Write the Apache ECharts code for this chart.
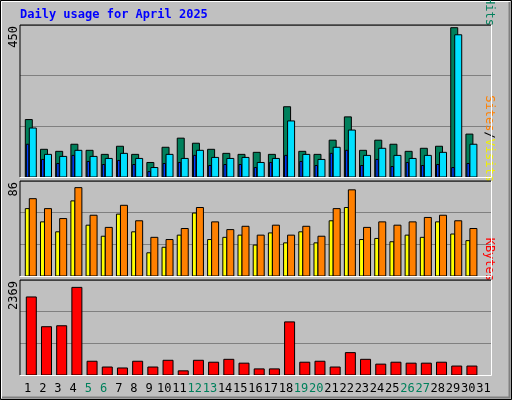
<!DOCTYPE html>
<html>
<head>
<meta charset="utf-8">
<script src="https://cdn.jsdelivr.net/npm/echarts@6/dist/echarts.min.js"></script>
<style>
  html, body { margin: 0; padding: 0; background: #c0c0c0; }
  #chart { width: 512px; height: 400px; }
</style>
</head>
<body>
<div id="chart"></div>
<script>
// 每日数据
const days = ['1','2','3','4','5','6','7','8','9','10','11','12','13','14','15','16','17','18','19','20','21','22','23','24','25','26','27','28','29','30','31']
const weekend = ['5','6','12','13','19','20','26','27']
const hits = [170,82,76,97,79,67,91,67,43,88,115,100,82,70,67,73,67,208,76,67,109,178,79,109,97,76,85,91,442,127,0]
const files = [145,67,61,79,61,55,70,55,28,67,55,79,58,55,58,43,55,166,67,52,88,139,64,85,64,55,64,73,421,97,0]
const pages = [97,52,40,64,46,37,49,37,16,40,43,64,34,37,37,28,43,64,46,34,70,79,34,52,31,43,34,37,28,40,0]
const visits = [70,61,52,80,55,44,64,50,35,33,43,62,49,42,45,37,46,37,45,36,61,78,44,49,46,49,53,55,50,43,0]
const sites = [61,49,40,68,46,36,56,40,21,26,37,57,33,35,37,28,39,30,40,30,50,62,33,34,31,37,35,49,38,32,0]
const kbytes = [1946,1204,1228,2185,343,199,175,343,199,367,104,367,319,391,295,152,152,1324,319,343,199,558,391,271,319,295,295,319,223,223,0]
const maxes = [450, 86, 2369]

const mono = 'DejaVu Sans Mono'

// 柱子: 相对每个格子左边的偏移和宽度
function barSeries(data, idx, color, off, w, z) {
    return {
        type: 'custom',
        xAxisIndex: idx,
        yAxisIndex: idx,
        z: z,
        data: data.map((v, i) => [i, v]),
        renderItem(params, api) {
            let v = api.value(1)
            if (!v) return
            let top = api.coord([api.value(0), v])
            let base = api.coord([api.value(0), 0])
            let bw = api.size([1, 0])[0]
            let left = top[0] - bw / 2
            return {
                type: 'rect',
                shape: { x: left + off, y: top[1], width: w, height: base[1] - top[1] },
                style: { fill: color, stroke: '#000', lineWidth: 1 }
            }
        }
    }
}

const grids = [
    { left: 20, right: 21, top: 25, height: 152 },
    { left: 20, right: 21, top: 181, height: 95 },
    { left: 20, right: 21, top: 280, height: 95 }
]

const xAxis = grids.map((g, i) => ({
    type: 'category',
    gridIndex: i,
    data: days,
    axisTick: { show: false },
    axisLine: { show: false },
    axisLabel: i == 2 ? {
        show: true,
        margin: 8,
        fontFamily: mono,
        fontSize: 12,
        interval: 0,
        color: (v) => weekend.indexOf(v) >= 0 ? '#00805c' : '#000'
    } : { show: false }
}))

const yAxis = maxes.map((m, i) => ({
    type: 'value',
    gridIndex: i,
    min: 0,
    max: m,
    interval: m / 3,
    axisLabel: { show: false },
    axisLine: { show: false },
    axisTick: { show: false },
    splitLine: { show: true, lineStyle: { color: '#808080', width: 1 } }
}))

// 面板边框(左上黑, 右下白)
const panels = grids.map(g => ({
    type: 'polyline',
    shape: { points: [[g.left, g.top + g.height], [g.left, g.top], [491, g.top]] },
    style: { stroke: '#000', lineWidth: 1, fill: null },
    z: 10
})).concat(grids.map(g => ({
    type: 'polyline',
    shape: { points: [[g.left, g.top + g.height + 0.5], [491.5, g.top + g.height + 0.5], [491.5, g.top]] },
    style: { stroke: '#fff', lineWidth: 1, fill: null },
    z: 10
})))

const maxLabels = maxes.map((m, i) => ({
    type: 'text',
    x: 8, y: grids[i].top + 1,
    rotation: Math.PI / 2,
    style: { text: String(m), font: '12px ' + mono, fill: '#000', align: 'right', verticalAlign: 'top' },
    z: 10
}))

function sideLabel(y, parts) {
    return {
        type: 'text',
        x: 495, y: y,
        rotation: -Math.PI / 2,
        style: {
            text: parts.map(p => '{' + p[0] + '|' + p[1] + '}').join(''),
            font: '12px ' + mono,
            rich: {
                pg: { fill: '#00c8e8', font: '12px ' + mono },
                fi: { fill: '#0050ff', font: '12px ' + mono },
                hi: { fill: '#00805c', font: '12px ' + mono },
                sl: { fill: '#000', font: '12px ' + mono },
                si: { fill: '#ff8000', font: '12px ' + mono },
                vi: { fill: '#f0f000', font: '12px ' + mono },
                kb: { fill: '#ff0000', font: '12px ' + mono }
            },
            align: 'right', verticalAlign: 'top'
        },
        z: 10
    }
}

const chart = echarts.init(document.getElementById('chart'))
chart.setOption({
    backgroundColor: '#c0c0c0',
    animation: false,
    grid: grids,
    xAxis: xAxis,
    yAxis: yAxis,
    graphic: [
        { type: 'rect', shape: { x: 0.5, y: 0.5, width: 511, height: 399 }, style: { fill: null, stroke: '#000', lineWidth: 1 }, z: 10 },
        { type: 'polyline', shape: { points: [[1.5, 398], [1.5, 1.5], [510, 1.5]] }, style: { stroke: '#fff', lineWidth: 1, fill: null }, z: 10 },
        { type: 'polyline', shape: { points: [[2, 397.5], [509.5, 397.5], [509.5, 2]] }, style: { stroke: '#808080', lineWidth: 2, fill: null }, z: 10 },
        { type: 'text', x: 20, y: 9, style: { text: 'Daily usage for April 2025', font: 'bold 12px ' + mono, fill: '#0000ff' }, z: 10 },
        sideLabel(26, [['pg', 'Pages'], ['sl', '/'], ['fi', 'Files'], ['sl', '/'], ['hi', 'Hits']]),
        sideLabel(182, [['si', 'Sites'], ['sl', '/'], ['vi', 'Visits']]),
        sideLabel(281, [['kb', 'KBytes']])
    ].concat(panels, maxLabels),
    series: [
        barSeries(hits, 0, '#00805c', 5.3, 7, 2),
        barSeries(files, 0, '#00e0ff', 9.3, 7, 3),
        barSeries(pages, 0, '#0040ff', 6.3, 2.5, 4),
        barSeries(sites, 1, '#ffff00', 5.3, 4, 2),
        barSeries(visits, 1, '#ff8000', 9.3, 7, 3),
        barSeries(kbytes, 2, '#ff0000', 6.3, 10, 2)
    ]
})
</script>
</body>
</html>
